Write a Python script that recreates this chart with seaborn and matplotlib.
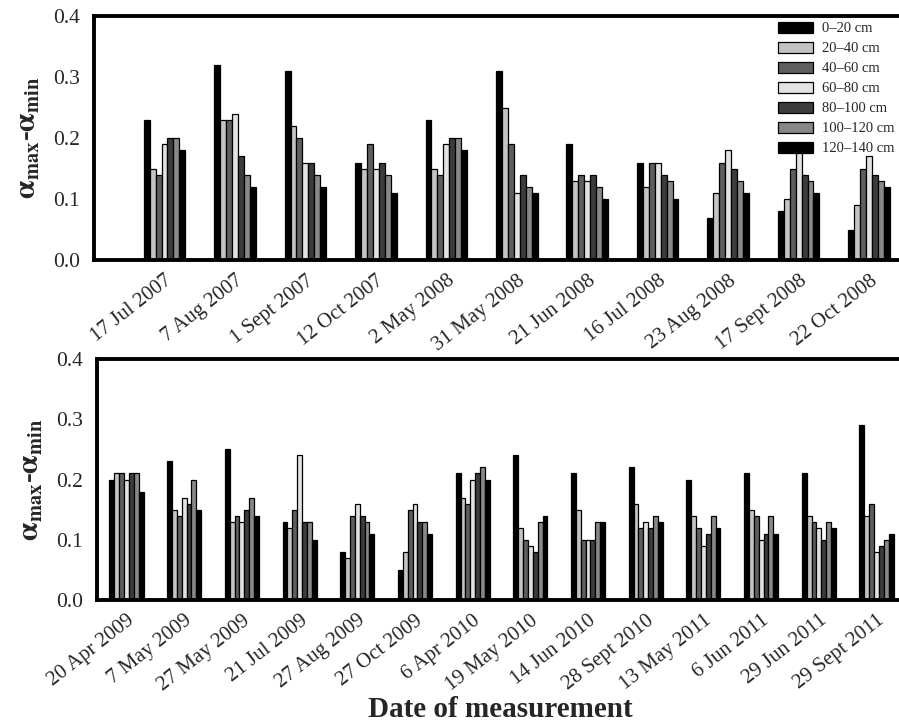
import matplotlib
matplotlib.use("Agg")
import matplotlib.pyplot as plt
import seaborn as sns
import pandas as pd

depths = ["0–20 cm", "20–40 cm", "40–60 cm", "60–80 cm", "80–100 cm", "100–120 cm", "120–140 cm"]
colors = ["#000000", "#c4c4c4", "#5e5e5e", "#e2e2e2", "#3c3c3c", "#888888", "#000000"]

dates_top = ["17 Jul 2007", "7 Aug 2007", "1 Sept 2007", "12 Oct 2007", "2 May 2008", "31 May 2008",
             "21 Jun 2008", "16 Jul 2008", "23 Aug 2008", "17 Sept 2008", "22 Oct 2008"]
vals_top = [
    [0.23, 0.15, 0.14, 0.19, 0.20, 0.20, 0.18],
    [0.32, 0.23, 0.23, 0.24, 0.17, 0.14, 0.12],
    [0.31, 0.22, 0.20, 0.16, 0.16, 0.14, 0.12],
    [0.16, 0.15, 0.19, 0.15, 0.16, 0.14, 0.11],
    [0.23, 0.15, 0.14, 0.19, 0.20, 0.20, 0.18],
    [0.31, 0.25, 0.19, 0.11, 0.14, 0.12, 0.11],
    [0.19, 0.13, 0.14, 0.13, 0.14, 0.12, 0.10],
    [0.16, 0.12, 0.16, 0.16, 0.14, 0.13, 0.10],
    [0.07, 0.11, 0.16, 0.18, 0.15, 0.13, 0.11],
    [0.08, 0.10, 0.15, 0.18, 0.14, 0.13, 0.11],
    [0.05, 0.09, 0.15, 0.17, 0.14, 0.13, 0.12],
]

dates_bot = ["20 Apr 2009", "7 May 2009", "27 May 2009", "21 Jul 2009", "27 Aug 2009", "27 Oct 2009",
             "6 Apr 2010", "19 May 2010", "14 Jun 2010", "28 Sept 2010", "13 May 2011", "6 Jun 2011",
             "29 Jun 2011", "29 Sept 2011"]
vals_bot = [
    [0.20, 0.21, 0.21, 0.20, 0.21, 0.21, 0.18],
    [0.23, 0.15, 0.14, 0.17, 0.16, 0.20, 0.15],
    [0.25, 0.13, 0.14, 0.13, 0.15, 0.17, 0.14],
    [0.13, 0.12, 0.15, 0.24, 0.13, 0.13, 0.10],
    [0.08, 0.07, 0.14, 0.16, 0.14, 0.13, 0.11],
    [0.05, 0.08, 0.15, 0.16, 0.13, 0.13, 0.11],
    [0.21, 0.17, 0.16, 0.20, 0.21, 0.22, 0.20],
    [0.24, 0.12, 0.10, 0.09, 0.08, 0.13, 0.14],
    [0.21, 0.15, 0.10, 0.10, 0.10, 0.13, 0.13],
    [0.22, 0.16, 0.12, 0.13, 0.12, 0.14, 0.13],
    [0.20, 0.14, 0.12, 0.09, 0.11, 0.14, 0.12],
    [0.21, 0.15, 0.14, 0.10, 0.11, 0.14, 0.11],
    [0.21, 0.14, 0.13, 0.12, 0.10, 0.13, 0.12],
    [0.29, 0.14, 0.16, 0.08, 0.09, 0.10, 0.11],
]

yticks = [0.0, 0.1, 0.2, 0.3, 0.4]


def to_long(dates, vals):
    rows = []
    for d, vs in zip(dates, vals):
        for dep, v in zip(depths, vs):
            rows.append({"date": d, "depth": dep, "val": v})
    return pd.DataFrame(rows)


sns.set_theme(style="white")
plt.rcParams["font.family"] = ["Liberation Serif", "DejaVu Serif"]
plt.rcParams["mathtext.fontset"] = "stix"

fig = plt.figure(figsize=(8.99, 7.25), dpi=100)
ax1 = fig.add_axes([0.1046, 0.641, 0.895, 0.337])
ax2 = fig.add_axes([0.108, 0.1724, 0.892, 0.3324])

ylabel = r"$\mathbf{\alpha_{max}}$-$\mathbf{\alpha_{min}}$"

for ax, dates, vals, xl in [(ax1, dates_top, vals_top, (-1.0, 10.42)),
                             (ax2, dates_bot, vals_bot, (-0.51, 13.39))]:
    df = to_long(dates, vals)
    sns.barplot(data=df, x="date", y="val", hue="depth", order=dates, hue_order=depths,
                palette=colors, saturation=1, width=0.59, edgecolor="black", linewidth=0.9,
                ax=ax, legend=(ax is ax1))
    ax.set_xlim(*xl)
    ax.set_ylim(0, 0.4)
    ax.set_yticks(yticks)
    ax.set_yticklabels([f"{t:.1f}" for t in yticks], fontsize=15.5)
    ax.set_xticks(range(len(dates)))
    ax.set_xticklabels(dates, rotation=38, ha="right", rotation_mode="anchor", fontsize=15)
    ax.tick_params(axis="y", direction="in", length=8, width=2.5, pad=10)
    ax.tick_params(axis="x", length=0, pad=8)
    for side in ["left", "bottom", "top"]:
        ax.spines[side].set_linewidth(2.8)
        ax.spines[side].set_color("black")
    ax.spines["right"].set_visible(False)
    ax.set_xlabel("")
    ax.set_ylabel(ylabel, fontsize=21, fontweight="bold", labelpad=8)

leg = ax1.legend(loc="upper left", bbox_to_anchor=(0.850, 0.975), frameon=False, fontsize=10.5,
                 handlelength=2.4, handleheight=0.75, labelspacing=0.45, handletextpad=0.6,
                 borderaxespad=0, borderpad=0)
for h in leg.legend_handles:
    h.set_edgecolor("black")
    h.set_linewidth(0.9)

fig.text(0.557, 0.022, "Date of measurement", fontsize=21, fontweight="bold",
         ha="center", va="center")

fig.savefig("out.png", dpi=100)
